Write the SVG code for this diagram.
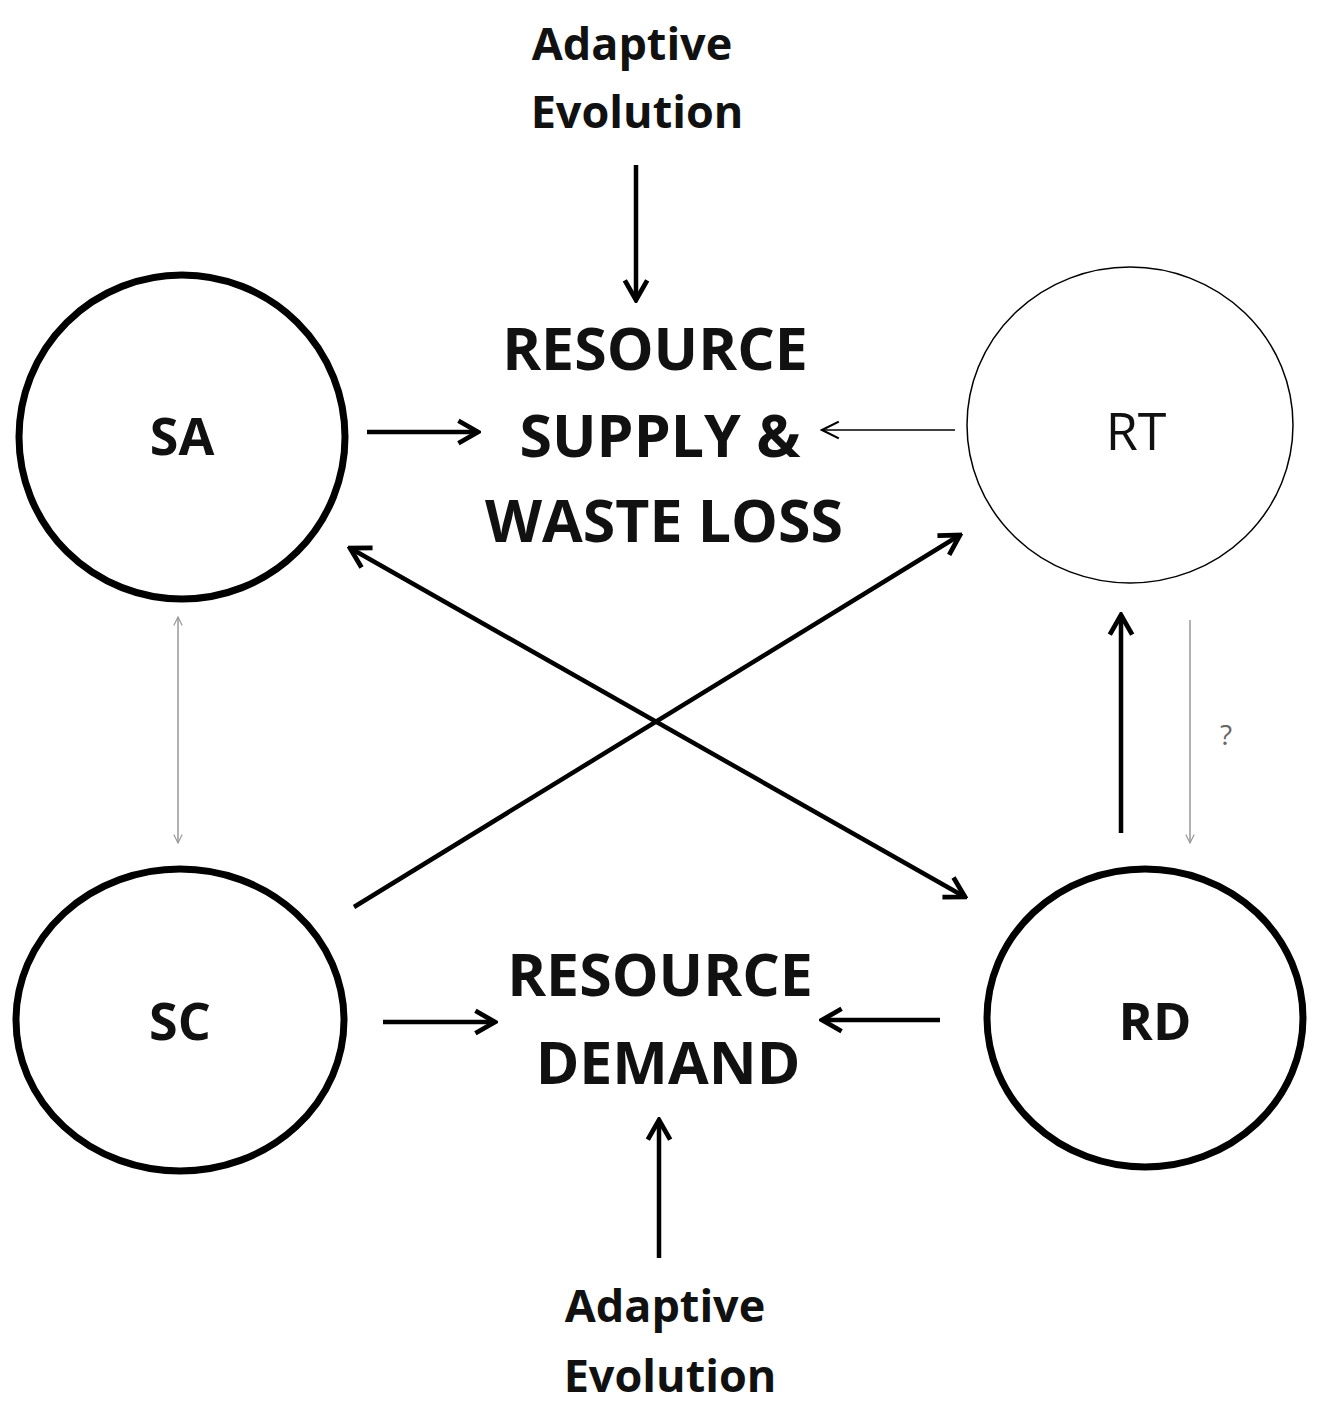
<svg xmlns="http://www.w3.org/2000/svg" width="1334" height="1414" viewBox="0 0 1334 1414">
<style>
.t{font-family:"Open Sans","Liberation Sans",sans-serif;font-weight:bold;fill:#111;text-anchor:middle}
.node{fill:none;stroke:#000;stroke-width:7}
.thick{stroke:#000;stroke-width:4.5;fill:none}
.thin{stroke:#000;stroke-width:1.5;fill:none}
.grey{stroke:#999;stroke-width:1.5;fill:none}
</style>
<defs>
<marker id="a" viewBox="0 0 20 20" refX="18" refY="10" markerWidth="28" markerHeight="28" markerUnits="userSpaceOnUse" orient="auto-start-reverse"><polyline points="4,2 18,10 4,18" fill="none" stroke="#000" stroke-width="3.4"/></marker>
<marker id="b" viewBox="0 0 20 20" refX="18" refY="10" markerWidth="24" markerHeight="24" markerUnits="userSpaceOnUse" orient="auto-start-reverse"><polyline points="4,3 18,10 4,17" fill="none" stroke="#000" stroke-width="1.8"/></marker>
<marker id="g" viewBox="0 0 20 20" refX="18" refY="10" markerWidth="12" markerHeight="12" markerUnits="userSpaceOnUse" orient="auto-start-reverse"><polyline points="4,3 18,10 4,17" fill="none" stroke="#999" stroke-width="2"/></marker>
</defs>
<g id="SA"><ellipse class="node" cx="182" cy="437" rx="163" ry="162"/><text class="t" x="182" y="455" font-size="52">SA</text></g>
<g id="RT"><ellipse cx="1130" cy="425" rx="163" ry="158" fill="none" stroke="#000" stroke-width="1.5"/><text class="t" x="1136" y="450" font-size="52" style="font-weight:normal">RT</text></g>
<g id="SC"><ellipse class="node" cx="180" cy="1020" rx="164" ry="151"/><text class="t" x="180" y="1040" font-size="52">SC</text></g>
<g id="RD"><ellipse class="node" cx="1145" cy="1018" rx="158" ry="149"/><text class="t" x="1155" y="1040" font-size="52">RD</text></g>
<g id="supply"><text class="t" x="655" y="370" font-size="59">RESOURCE</text><text class="t" x="660" y="457" font-size="59">SUPPLY &amp;</text><text class="t" x="664" y="542" font-size="59">WASTE LOSS</text></g>
<g id="demand"><text class="t" x="660" y="996" font-size="59">RESOURCE</text><text class="t" x="668" y="1084" font-size="59">DEMAND</text></g>
<g id="evo1"><text class="t" x="632" y="60" font-size="45">Adaptive</text><text class="t" x="637" y="128" font-size="45">Evolution</text></g>
<g id="evo2"><text class="t" x="665" y="1322" font-size="45">Adaptive</text><text class="t" x="670" y="1392" font-size="45">Evolution</text></g>
<text x="1226" y="745" font-family="Open Sans,sans-serif" font-size="28" fill="#666" text-anchor="middle">?</text>
<g id="connectors">
<line class="thick" x1="636" y1="165" x2="636" y2="300" marker-end="url(#a)"/>
<line class="thick" x1="367" y1="432" x2="478" y2="432" marker-end="url(#a)"/>
<line class="thin" x1="955" y1="430" x2="822" y2="430" marker-end="url(#b)"/>
<line class="thick" x1="383" y1="1022" x2="495" y2="1022" marker-end="url(#a)"/>
<line class="thick" x1="940" y1="1020" x2="822" y2="1020" marker-end="url(#a)"/>
<line class="thick" x1="659" y1="1258" x2="659" y2="1120" marker-end="url(#a)"/>
<line class="thick" x1="350" y1="548" x2="965" y2="897" marker-start="url(#a)" marker-end="url(#a)"/>
<line class="thick" x1="354" y1="907" x2="960" y2="535" marker-end="url(#a)"/>
<line class="thick" x1="1121" y1="833" x2="1121" y2="615" marker-end="url(#a)"/>
<line class="grey" x1="1190" y1="620" x2="1190" y2="843" marker-end="url(#g)"/>
<line class="grey" x1="178" y1="617" x2="178" y2="843" marker-start="url(#g)" marker-end="url(#g)"/>
</g>
</svg>
